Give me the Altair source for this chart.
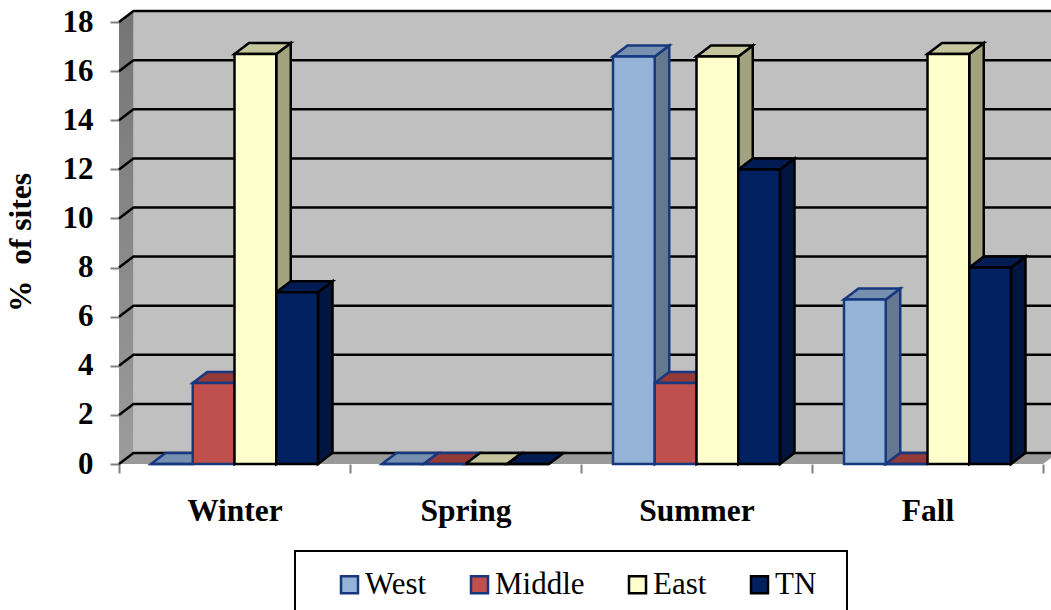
import altair as alt
import pandas as pd

# Percent of sites per season and region
seasons = ["Winter", "Spring", "Summer", "Fall"]
regions = ["West", "Middle", "East", "TN"]
west = [0, 0, 16.6, 6.7]
middle = [3.3, 0, 3.3, 0]
east = [16.7, 0, 16.6, 16.7]
tn = [7.0, 0, 12.0, 8.0]
series_values = [west, middle, east, tn]
y_ticks = list(range(0, 19, 2))

front_colors = ["#95B3D7", "#C0504D", "#FFFFCC", "#002060"]
top_colors = ["#7690B0", "#943A38", "#C6C69E", "#001C52"]
side_colors = ["#64788F", "#7D3230", "#A2A27F", "#00153F"]
edge_colors = ["#17377F", "#17377F", "#000000", "#000000"]

SERIF = "Liberation Serif"
EDGE = 2.5
CAT_PX = 231.0
UNIT_PX = 24.55
DEPTH_X = 14.5 / CAT_PX
DEPTH_Y = 11.0 / UNIT_PX
BAR_W = 41.75 / CAT_PX
GROUP_PAD = 32.0 / CAT_PX
Y_MAX = 454 / UNIT_PX

x_q = alt.Scale(domain=[0, 4], nice=False, zero=False)
y_q = alt.Scale(domain=[0, Y_MAX], nice=False, zero=False)


def X(field, **kw):
    return alt.X(field, type="quantitative", scale=x_q, axis=None, **kw)


def Y(field, **kw):
    return alt.Y(field, type="quantitative", scale=y_q, axis=None, **kw)


def polygons(rows):
    return alt.Chart(pd.DataFrame(rows))


# Table of bars built from the series arrays
bars = []
for c, season in enumerate(seasons):
    for s, region in enumerate(regions):
        x0 = c + GROUP_PAD + s * BAR_W
        bars.append(dict(season=season, region=region, s=s, bar=f"{season}-{region}",
                         x0=x0, x1=x0 + BAR_W, v=series_values[s][c]))
bars = pd.DataFrame(bars)

layers = []

# Category axis: band ticks with centred season names
layers.append(
    alt.Chart(pd.DataFrame({"season": seasons})).mark_point(opacity=0).encode(
        x=alt.X("season:N", sort=seasons,
                scale=alt.Scale(type="band", paddingInner=0, paddingOuter=0),
                axis=alt.Axis(title=None, tickBand="extent", labelAngle=0, tickSize=9,
                              tickWidth=2, tickColor="#808080", domain=False,
                              labelFont=SERIF, labelFontWeight="bold", labelFontSize=31.5,
                              labelColor="black", labelPadding=22, grid=False)),
        y=alt.Y("v:Q", scale=y_q,
                axis=alt.Axis(values=y_ticks, title="%\u00a0\u00a0of sites", titleFont=SERIF,
                              titleFontWeight="bold", titleFontSize=31.5, titleColor="black",
                              titleX=-82, titleY=232, tickSize=9, tickWidth=2,
                              tickColor="#808080", domain=False, labelFont=SERIF,
                              labelFontWeight="bold", labelFontSize=31, labelColor="black",
                              labelPadding=17, grid=False)),
    ).transform_calculate(v="0")
)

# Back wall, left wall and floor
wall = polygons([dict(x=DEPTH_X, lo=DEPTH_Y, hi=18 + DEPTH_Y), dict(x=4 + DEPTH_X, lo=DEPTH_Y, hi=18 + DEPTH_Y)])
layers.append(wall.mark_area(fill="#C0C0C0").encode(x=X("x"), y=Y("lo"), y2="hi"))
left = polygons([dict(x=0, lo=0, hi=18), dict(x=DEPTH_X, lo=DEPTH_Y, hi=18 + DEPTH_Y)])
layers.append(left.mark_area(
    fill=alt.Gradient(gradient="linear", x1=0, x2=0, y1=0, y2=1,
                      stops=[alt.GradientStop(offset=0, color="#757575"),
                             alt.GradientStop(offset=1, color="#9C9C9C")])
).encode(x=X("x"), y=Y("lo"), y2="hi"))
floor = polygons([dict(y=0, a=0, b=4), dict(y=DEPTH_Y, a=DEPTH_X, b=4 + DEPTH_X)])
layers.append(floor.mark_area(fill="#9A9A9A", orient="horizontal").encode(y=Y("y"), x=X("a"), x2="b"))

# Gridlines run along the left wall and then across the back wall
grid_rows = []
for t in y_ticks:
    grid_rows += [dict(t=t, o=0, x=0, y=t), dict(t=t, o=1, x=DEPTH_X, y=t + DEPTH_Y),
                  dict(t=t, o=2, x=4 + DEPTH_X, y=t + DEPTH_Y)]
layers.append(polygons(grid_rows).mark_line(color="black", strokeWidth=EDGE).encode(
    x=X("x"), y=Y("y"), detail="t:N", order="o:Q"))

# Right-hand faces of the bars
for s, region in enumerate(regions):
    rows = []
    for _, b in bars[bars.s == s].iterrows():
        if b.v > 0:
            rows += [dict(bar=b.bar, x=b.x1, lo=0, hi=b.v),
                     dict(bar=b.bar, x=b.x1 + DEPTH_X, lo=DEPTH_Y, hi=b.v + DEPTH_Y)]
    layers.append(polygons(rows).mark_area(fill=side_colors[s], stroke=edge_colors[s], strokeWidth=EDGE).encode(
        x=X("x"), y=Y("lo"), y2="hi", detail="bar:N"))

# Top faces of the bars
for s, region in enumerate(regions):
    rows = []
    for _, b in bars[bars.s == s].iterrows():
        rows += [dict(bar=b.bar, y=b.v, a=b.x0, z=b.x1),
                 dict(bar=b.bar, y=b.v + DEPTH_Y, a=b.x0 + DEPTH_X, z=b.x1 + DEPTH_X)]
    layers.append(polygons(rows).mark_area(fill=top_colors[s], stroke=edge_colors[s], strokeWidth=EDGE,
                                           orient="horizontal").encode(
        y=Y("y"), x=X("a"), x2="z", detail="bar:N"))

# Front faces carry the legend
legend = alt.Legend(title=None, orient="none", legendX=215, legendY=559, direction="horizontal",
                    columns=4, columnPadding=37, symbolType="square", symbolSize=289,
                    symbolStrokeWidth=EDGE, labelFont=SERIF, labelFontSize=31, labelColor="black",
                    labelOffset=0, labelLimit=200)
front = alt.Chart(bars).mark_bar(strokeWidth=EDGE).encode(
    x=X("x0"), x2="x1", y=Y("zero"), y2="v",
    fill=alt.Fill("region:N", sort=regions, scale=alt.Scale(domain=regions, range=front_colors), legend=legend),
    stroke=alt.Stroke("region:N", sort=regions, scale=alt.Scale(domain=regions, range=edge_colors), legend=legend),
).transform_calculate(zero="0")
layers.append(front)

# Frame round the legend, open past the bottom of the page
frame = polygons([dict(a=(295 - 119) / CAT_PX, b=(847 - 119) / CAT_PX, lo=-87 / UNIT_PX, hi=-170 / UNIT_PX)])
layers.append(frame.mark_rect(fill=None, stroke="black", strokeWidth=2).encode(
    x=X("a"), x2="b", y=Y("lo"), y2="hi"))

chart = alt.layer(*layers).resolve_scale(x="independent").resolve_axis(y="independent").properties(
    width=924, height=454,
    padding={"left": 119, "right": 8, "top": 10, "bottom": 146},
    autosize=alt.AutoSizeParams(type="none"),
    background="white",
).configure_view(stroke=None)

chart.save("out.html", embed_options={"renderer": "svg", "actions": False})
